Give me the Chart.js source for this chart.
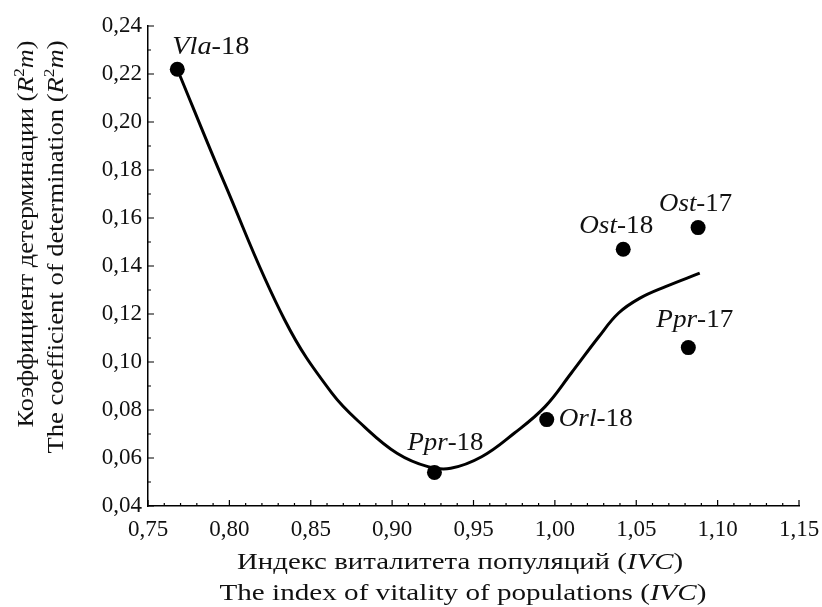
<!DOCTYPE html>
<html>
<head>
<meta charset="utf-8">
<title>IVC / R2m</title>
<script src="https://cdn.jsdelivr.net/npm/chart.js@4.4.0/dist/chart.umd.min.js"></script>
<style>
  html, body { margin: 0; padding: 0; background: #fff; }
  #wrap { width: 822px; height: 607px; position: relative; }
</style>
</head>
<body>
<div id="wrap"><canvas id="chart"></canvas></div>
<script>
'use strict';

// ── Data ────────────────────────────────────────────────────────────────────

// populations (italic code + year)
const pointNames = ['Vla', 'Ppr', 'Orl', 'Ost', 'Ppr', 'Ost'];
const pointYears = ['18', '18', '18', '18', '17', '17'];
const pointIVC = [0.768, 0.926, 0.995, 1.042, 1.082, 1.088];
const pointR2m = [0.222, 0.054, 0.076, 0.147, 0.106, 0.156];

// fitted curve
const curveIVC = [0.768, 0.797, 0.834, 0.863, 0.883, 0.903, 0.922, 0.936,
                  0.955, 0.975, 0.994, 1.010, 1.027, 1.039, 1.052, 1.068, 1.089];
const curveR2m = [0.222, 0.1745, 0.1175, 0.087, 0.073, 0.062, 0.0564, 0.0557,
                  0.0605, 0.0703, 0.0814, 0.0953, 0.1105, 0.1203, 0.1265, 0.1314, 0.137];

const xTicks = [0.75, 0.80, 0.85, 0.90, 0.95, 1.00, 1.05, 1.10, 1.15];
const yTicks = [0.04, 0.06, 0.08, 0.10, 0.12, 0.14, 0.16, 0.18, 0.20, 0.22, 0.24];

// ── Font pick: first Times-like face that is really installed ───────────────

function pickFont(cands) {
  const c = document.createElement('canvas').getContext('2d');
  const probe = 'The quick brown fox jumps 0123456789 WMil';
  for (const f of cands) {
    c.font = `40px "${f}", monospace`;
    const a = c.measureText(probe).width;
    c.font = `40px "${f}", sans-serif`;
    const b = c.measureText(probe).width;
    if (a === b) return f;
  }
  return 'serif';
}

const FACE = pickFont(['Liberation Serif', 'Times New Roman', 'Tinos', 'Nimbus Roman',
                       'Nimbus Roman No9 L', 'FreeSerif', 'Noto Serif', 'DejaVu Serif']);
const FONT = FACE === 'serif' ? 'serif' : `"${FACE}", serif`;
const INK = '#111';

function textW(str, font) {
  const c = document.createElement('canvas').getContext('2d');
  c.font = font;
  return c.measureText(str).width;
}

// tick size chosen so "0,24" is ~40px wide, as in the picture
const TICK_SIZE = Math.max(17, Math.min(24, Math.round(40 / (textW('0,24', `100px ${FONT}`) / 100))));

// ── Styles ──────────────────────────────────────────────────────────────────

// label placement relative to each point: left edge dx, cap-centre dy, width (px)
const labelBoxes = [[-5, -23, 77], [-27, -31, 76], [12, -2, 74], [-44, -24, 74], [-32, -29, 77], [-39, -25, 73]];

const xTitleLines = [
  { runs: [['Индекс виталитета популяций (', 'n'], ['IVC', 'i'], [')', 'n']], cx: 460, cy: 561, w: 446 },
  { runs: [['The index of vitality of populations (', 'n'], ['IVC', 'i'], [')', 'n']], cx: 463, cy: 592, w: 487 },
];
const yTitleLines = [
  { runs: [['Коэффициент детерминации (', 'n'], ['R', 'i'], ['2', 'sup'], ['m', 'i'], [')', 'n']], cx: 25, cy: 234, w: 387 },
  { runs: [['The coefficient of determination (', 'n'], ['R', 'i'], ['2', 'sup'], ['m', 'i'], [')', 'n']], cx: 55, cy: 247, w: 413 },
];

const fmt = v => v.toFixed(2).replace('.', ',');

// ── Text helpers ────────────────────────────────────────────────────────────

function runFont(style, size) {
  if (style === 'i') return `italic ${size}px ${FONT}`;
  if (style === 'sup') return `${Math.round(size * 0.65)}px ${FONT}`;
  return `${size}px ${FONT}`;
}

function runsWidth(ctx, runs, size) {
  return runs.reduce((w, [t, s]) => {
    ctx.font = runFont(s, size);
    return w + ctx.measureText(t).width;
  }, 0);
}

// draws runs from x=0, baseline at y (local coords)
function drawRuns(ctx, runs, size, y) {
  let x = 0;
  runs.forEach(([t, s]) => {
    ctx.font = runFont(s, size);
    const dy = s === 'sup' ? -size * 0.38 : 0;
    ctx.fillText(t, x, y + dy);
    x += ctx.measureText(t).width;
  });
}

// runs centred on (cx, cy), squeezed/stretched to width w
function drawFitted(ctx, runs, size, cx, cy, w, rotate) {
  const nat = runsWidth(ctx, runs, size);
  ctx.save();
  ctx.translate(cx, cy);
  if (rotate) ctx.rotate(-Math.PI / 2);
  ctx.scale(w / nat, 1);
  ctx.translate(-nat / 2, 0);
  drawRuns(ctx, runs, size, size * 0.331);
  ctx.restore();
}

// ── Plugins ─────────────────────────────────────────────────────────────────

const inwardTicks = {
  id: 'inwardTicks',
  afterDraw(chart) {
    const { ctx, chartArea: a, scales: { x, y } } = chart;
    ctx.save();
    ctx.strokeStyle = '#000';
    ctx.lineWidth = 1.2;
    ctx.beginPath();
    for (let i = 0; i < xTicks.length; i++) {
      const px = x.getPixelForValue(xTicks[i]);
      ctx.moveTo(px, a.bottom); ctx.lineTo(px, a.bottom - 6);
      if (i < xTicks.length - 1) {
        for (let k = 1; k < 5; k++) {
          const mx = x.getPixelForValue(xTicks[i] + (xTicks[i + 1] - xTicks[i]) * k / 5);
          ctx.moveTo(mx, a.bottom); ctx.lineTo(mx, a.bottom - 3);
        }
      }
    }
    for (let i = 0; i < yTicks.length; i++) {
      const py = y.getPixelForValue(yTicks[i]);
      ctx.moveTo(a.left, py); ctx.lineTo(a.left + 6, py);
      if (i < yTicks.length - 1) {
        const my = y.getPixelForValue((yTicks[i] + yTicks[i + 1]) / 2);
        ctx.moveTo(a.left, my); ctx.lineTo(a.left + 3, my);
      }
    }
    ctx.stroke();
    ctx.restore();
  },
};

const pointLabels = {
  id: 'pointLabels',
  afterDraw(chart) {
    const { ctx } = chart;
    const meta = chart.getDatasetMeta(1);
    const size = 25;
    ctx.save();
    ctx.fillStyle = INK;
    ctx.textBaseline = 'alphabetic';
    meta.data.forEach((el, i) => {
      const [dx, dy, w] = labelBoxes[i];
      const runs = [[pointNames[i], 'i'], ['-' + pointYears[i], 'n']];
      drawFitted(ctx, runs, size, el.x + dx + w / 2, el.y + dy, w, false);
    });
    ctx.restore();
  },
};

const axisTitles = {
  id: 'axisTitles',
  afterDraw(chart) {
    const { ctx } = chart;
    const size = 23;
    ctx.save();
    ctx.fillStyle = INK;
    ctx.textBaseline = 'alphabetic';
    xTitleLines.forEach(l => drawFitted(ctx, l.runs, size, l.cx, l.cy, l.w, false));
    yTitleLines.forEach(l => drawFitted(ctx, l.runs, size, l.cx, l.cy, l.w, true));
    ctx.restore();
  },
};

// ── Chart ───────────────────────────────────────────────────────────────────

const tickFont = { family: FONT, size: TICK_SIZE };

new Chart(document.getElementById('chart'), {
  type: 'scatter',
  data: {
    datasets: [
      {
        label: 'curve',
        data: curveIVC.map((v, i) => ({ x: v, y: curveR2m[i] })),
        showLine: true,
        borderColor: '#000',
        borderWidth: 3,
        pointRadius: 0,
        cubicInterpolationMode: 'default',
        tension: 0.4,
        fill: false,
      },
      {
        label: 'populations',
        data: pointIVC.map((v, i) => ({ x: v, y: pointR2m[i] })),
        showLine: false,
        pointRadius: 7.5,
        pointBackgroundColor: '#000',
        pointBorderWidth: 0,
      },
    ],
  },
  options: {
    responsive: true,
    maintainAspectRatio: false,
    animation: false,
    events: [],
    layout: { padding: { left: 0, right: 23, top: 26, bottom: 0 } },
    plugins: {
      legend: { display: false },
      tooltip: { enabled: false },
    },
    scales: {
      x: {
        type: 'linear',
        min: 0.75,
        max: 1.15,
        afterBuildTicks: s => { s.ticks = xTicks.map(v => ({ value: v })); },
        afterFit: s => {
          s.height = 101;
          // keep the plot edge where the picture has it; labels may overhang
          s.paddingLeft = 0;
          s.paddingRight = 0;
        },
        grid: { display: false, drawTicks: false },
        border: { display: true, color: '#000', width: 1.5 },
        ticks: {
          color: INK,
          font: tickFont,
          padding: 10,
          maxRotation: 0,
          autoSkip: false,
          callback: v => fmt(v),
        },
      },
      y: {
        type: 'linear',
        min: 0.04,
        max: 0.24,
        afterBuildTicks: s => { s.ticks = yTicks.map(v => ({ value: v })); },
        afterFit: s => { s.width = 148; },
        grid: { display: false, drawTicks: false },
        border: { display: true, color: '#000', width: 1.5 },
        ticks: {
          color: INK,
          font: tickFont,
          padding: 6,
          autoSkip: false,
          callback: v => fmt(v),
        },
      },
    },
  },
  plugins: [inwardTicks, pointLabels, axisTitles],
});
</script>
</body>
</html>
